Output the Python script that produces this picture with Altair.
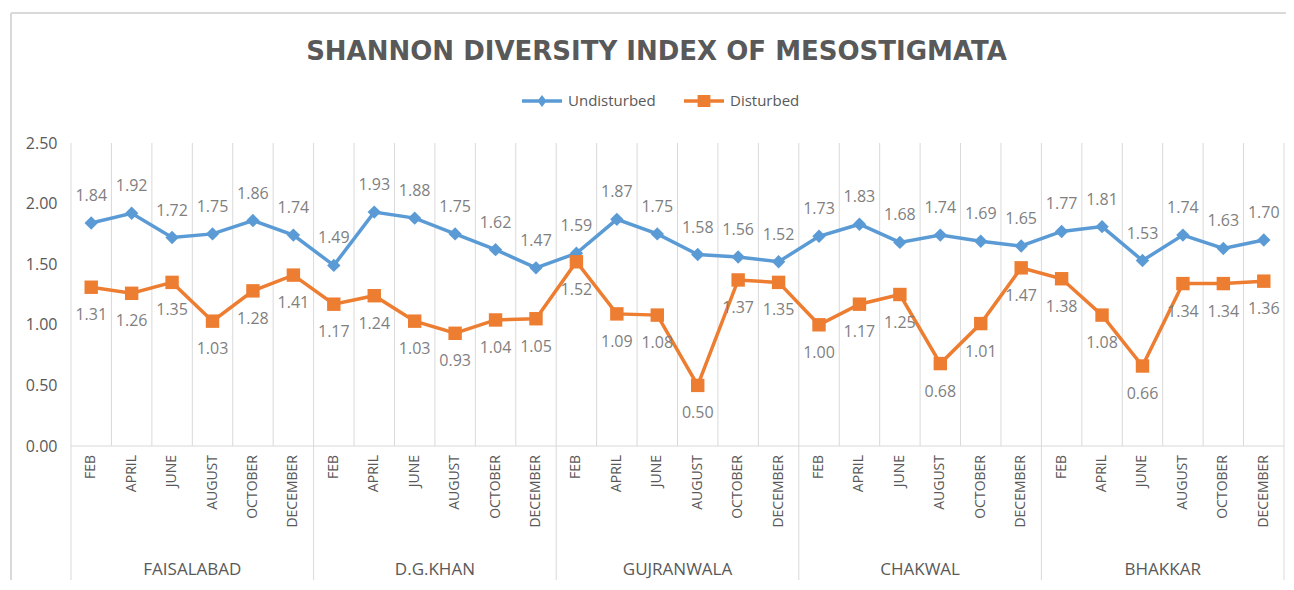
import altair as alt
import pandas as pd

# ---------------- data ----------------
cities = ["FAISALABAD", "D.G.KHAN", "GUJRANWALA", "CHAKWAL", "BHAKKAR"]
months = ["FEB", "APRIL", "JUNE", "AUGUST", "OCTOBER", "DECEMBER"]
series_names = ["Undisturbed", "Disturbed"]

undisturbed = [1.84, 1.92, 1.72, 1.75, 1.86, 1.74,
               1.49, 1.93, 1.88, 1.75, 1.62, 1.47,
               1.59, 1.87, 1.75, 1.58, 1.56, 1.52,
               1.73, 1.83, 1.68, 1.74, 1.69, 1.65,
               1.77, 1.81, 1.53, 1.74, 1.63, 1.70]
disturbed = [1.31, 1.26, 1.35, 1.03, 1.28, 1.41,
             1.17, 1.24, 1.03, 0.93, 1.04, 1.05,
             1.52, 1.09, 1.08, 0.50, 1.37, 1.35,
             1.00, 1.17, 1.25, 0.68, 1.01, 1.47,
             1.38, 1.08, 0.66, 1.34, 1.34, 1.36]
y_ticks = [0.0, 0.5, 1.0, 1.5, 2.0, 2.5]

# ---------------- styling / layout ----------------
TITLE = "SHANNON DIVERSITY INDEX OF MESOSTIGMATA"
colors = ["#5B9BD5", "#ED7D31"]
GRID = "#D9D9D9"
AXIS_TXT = "#595959"
LABEL_TXT = "#7F7F7F"
FONT = "Open Sans"

W = 1213           # plot width
H_DATA = 303       # pixel height of 0 .. 2.5
H = 433            # plot + category label area
Y_MAX = 2.5
Y_MIN = -Y_MAX * (H - H_DATA) / H_DATA
PAD = {"left": 63, "top": 135, "right": 2, "bottom": 4}

n_cat = len(cities) * len(months)

rows = []
cat_rows = []
for ci, c in enumerate(cities):
    for mi, m in enumerate(months):
        k = ci * len(months) + mi
        cat_rows.append({"i": k, "city": c, "month": m})
        rows.append({"i": k, "series": "Undisturbed", "value": undisturbed[k]})
        rows.append({"i": k, "series": "Disturbed", "value": disturbed[k]})
df = pd.DataFrame(rows)
cat_df = pd.DataFrame(cat_rows)
city_df = pd.DataFrame({"ci": list(range(len(cities))), "city": cities})
bounds_df = pd.DataFrame({"b": list(range(n_cat + 1))})
group_df = pd.DataFrame({"b": list(range(0, n_cat + 1, len(months)))})
legend_df = pd.DataFrame({"series": series_names})
one_df = pd.DataFrame({"k": [0]})

xscale = alt.Scale(domain=[0, n_cat], nice=False, zero=False)
yscale = alt.Scale(domain=[Y_MIN, Y_MAX], nice=False, zero=False)
cscale = alt.Scale(domain=series_names, range=colors)

# ---------------- layers ----------------
# chart-area frame (Excel-style light border)
frame_top = alt.Chart(one_df).mark_rule(color=GRID, strokeWidth=2).encode(
    x=alt.value(-PAD["left"] + 3), x2=alt.value(W + 20), y=alt.value(-PAD["top"] + 5)
)
frame_left = alt.Chart(one_df).mark_rule(color=GRID, strokeWidth=2).encode(
    x=alt.value(-PAD["left"] + 3), y=alt.value(-PAD["top"] + 5), y2=alt.value(H + 20)
)

grid = alt.Chart(bounds_df).mark_rule(color=GRID, strokeWidth=1).encode(
    x=alt.X("b:Q", scale=xscale, axis=None),
    y=alt.datum(Y_MAX, scale=yscale),
    y2=alt.datum(0),
)

baseline = alt.Chart(bounds_df).mark_rule(color=GRID, strokeWidth=1).encode(
    x=alt.X("min(b):Q", scale=xscale, axis=None),
    x2="max(b):Q",
    y=alt.datum(0, scale=yscale),
)

groups = alt.Chart(group_df).mark_rule(color=GRID, strokeWidth=1).encode(
    x=alt.X("b:Q", scale=xscale, axis=None),
    y=alt.datum(0, scale=yscale),
    y2=alt.value(H + 4),
)

base = alt.Chart(df).transform_calculate(xc="datum.i + 0.5")

lines = base.mark_line(strokeWidth=3.5).encode(
    x=alt.X("xc:Q", scale=xscale, axis=None),
    y=alt.Y("value:Q", scale=yscale,
            axis=alt.Axis(values=y_ticks, format=".2f", grid=False, ticks=False,
                          domain=False, title=None, labelFont=FONT,
                          labelFontSize=16, labelColor=AXIS_TXT, labelPadding=14)),
    color=alt.Color("series:N", scale=cscale, legend=None),
    order="xc:Q",
)

points = base.mark_point(filled=True, opacity=1, size=180).encode(
    x=alt.X("xc:Q", scale=xscale, axis=None),
    y=alt.Y("value:Q", scale=yscale),
    color=alt.Color("series:N", scale=cscale, legend=None),
    shape=alt.Shape("series:N",
                    scale=alt.Scale(domain=series_names, range=["diamond", "square"]),
                    legend=None),
)

lab_u = base.transform_filter(alt.datum.series == "Undisturbed").mark_text(
    dy=-27, font=FONT, fontSize=16, color=LABEL_TXT, baseline="middle"
).encode(
    x=alt.X("xc:Q", scale=xscale, axis=None),
    y=alt.Y("value:Q", scale=yscale),
    text=alt.Text("value:Q", format=".2f"),
)

lab_d = base.transform_filter(alt.datum.series == "Disturbed").mark_text(
    dy=28, font=FONT, fontSize=16, color=LABEL_TXT, baseline="middle"
).encode(
    x=alt.X("xc:Q", scale=xscale, axis=None),
    y=alt.Y("value:Q", scale=yscale),
    text=alt.Text("value:Q", format=".2f"),
)

month_labels = alt.Chart(cat_df).transform_calculate(xc="datum.i + 0.5").mark_text(
    angle=270, align="right", baseline="middle", font=FONT, fontSize=14,
    color=AXIS_TXT
).encode(
    x=alt.X("xc:Q", scale=xscale, axis=None),
    y=alt.value(H_DATA + 9),
    text="month:N",
)

city_labels = alt.Chart(city_df).transform_calculate(
    xc="(datum.ci + 0.5) * %d" % len(months)
).mark_text(
    align="center", baseline="middle", font=FONT, fontSize=17, color=AXIS_TXT
).encode(
    x=alt.X("xc:Q", scale=xscale, axis=None),
    y=alt.value(H - 6),
    text="city:N",
)

# legend (line + marker symbols); custom paths are scaled by sqrt(size)/2
diamond_line = ("M-1,-0.09L-0.161,-0.09L0,-0.3L0.161,-0.09L1,-0.09L1,0.09"
                "L0.161,0.09L0,0.3L-0.161,0.09L-1,0.09Z")
square_line = ("M-1,-0.09L-0.32,-0.09L-0.32,-0.3L0.32,-0.3L0.32,-0.09L1,-0.09"
               "L1,0.09L0.32,0.09L0.32,0.3L-0.32,0.3L-0.32,0.09L-1,0.09Z")
leg = alt.Legend(title=None, orient="none", direction="horizontal",
                 legendX=451, legendY=-62, symbolSize=1600, symbolStrokeWidth=0,
                 labelFont=FONT, labelFontSize=15, labelColor=AXIS_TXT,
                 labelOffset=6, columnPadding=28, padding=0)
legend_layer = alt.Chart(legend_df).mark_point(filled=True, opacity=1, clip=True).encode(
    x=alt.datum(-10, scale=xscale),
    y=alt.datum(1),
    color=alt.Color("series:N", scale=cscale, legend=leg),
    shape=alt.Shape("series:N",
                    scale=alt.Scale(domain=series_names, range=[diamond_line, square_line]),
                    legend=leg),
)

chart = alt.layer(
    frame_top, frame_left, grid, baseline, groups, lines, points, lab_u, lab_d,
    month_labels, city_labels, legend_layer
).resolve_scale(
    color="independent", shape="independent"
).properties(
    width=W, height=H,
    autosize=alt.AutoSizeParams(type="none"),
    padding=PAD,
    title=alt.Title(TITLE, font="DejaVu Sans", fontSize=26, fontWeight="bold",
                    color=AXIS_TXT, anchor="middle", dx=-21, offset=-53),
    background="white",
).configure_view(stroke=None)

chart.save("out.html", embed_options={"renderer": "svg", "actions": False})
